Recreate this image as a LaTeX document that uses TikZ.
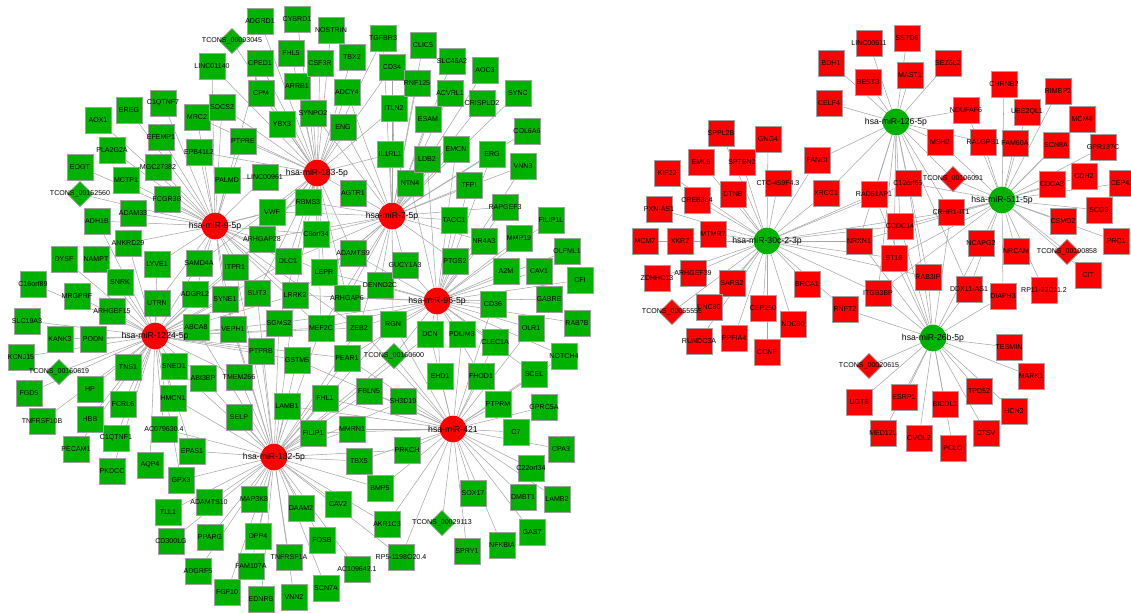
\documentclass[tikz,border=0pt]{standalone}
\usepackage{fontspec}
\setmainfont{Liberation Sans}
\usepackage{tikz}
\usetikzlibrary{shapes.geometric, backgrounds}

\definecolor{genegreen}{RGB}{0,178,0}
\definecolor{genered}{RGB}{255,0,0}
\definecolor{rimgray}{RGB}{160,160,160}
\definecolor{linkgray}{RGB}{165,165,165}
\newcommand{\genefont}{\fontsize{5.3}{6}\selectfont}
\newcommand{\hubfont}{\fontsize{6.5}{7}\selectfont}

\begin{document}
\begin{tikzpicture}[x=0.75pt,y=-0.75pt,
  nbox/.style={rectangle,draw=rimgray,line width=0.5pt,minimum size=19.5pt,inner sep=0pt,font=\genefont,
    execute at begin node={\hbox to 0pt\bgroup\hss},execute at end node={\hss\egroup}},
  gbox/.style={nbox,fill=genegreen},
  rbox/.style={nbox,fill=genered},
  gdia/.style={gbox,diamond,minimum size=19pt},
  rdia/.style={rbox,diamond,minimum size=19pt},
  hub/.style={circle,minimum size=20pt,inner sep=0pt,font=\hubfont,
    execute at begin node={\hbox to 0pt\bgroup\hss},execute at end node={\hss\egroup}},
  redhub/.style={hub,fill=genered},
  greenhub/.style={hub,fill=genegreen},
  link/.style={draw=linkgray,line width=0.4pt}]
\useasboundingbox (0,0) rectangle (1131,612);

% left network: targets
\foreach \n/\x/\y in {AOX1/98/120,EREG/129/110,C1QTNF7/163/103,MRC2/197/117,LINC01140/212/66,SOCS2/222/107,
  EFEMP1/161/137,EPB41L2/199/152,PLA2G2A/112/150,EOGT/80/167,MGC27382/158/167,MCTP1/126/180,FCGR3B/167/199,
  ADAM33/133/213,ADH1B/97/221,ANKRD29/128/243,DYSF/64/259,NAMPT/96/259,LYVE1/157/264,SAMD4A/199/263,
  C16orf89/33/284,SNRK/120/282,MRGPRF/77/296,UTRN/157/303,ADGRL2/195/294,ARHGEF15/112/311,SLC19A3/27/321,
  ABCA8/196/327,KANK3/60/339,PODN/93/339,KCNJ15/21/357,TNS1/128/367,SNED1/174/366,ABI3BP/203/378,FGD5/29/393,
  HP/90/389,FCRL6/123/404,HMCN1/173/398,TNFRSF10B/42/421,HBB/90/419,C1QTNF1/116/438,PECAM1/76/449,
  PKDCC/112/471,EPAS1/192/451,AQP4/150/465,GPX3/181/480,TLL1/168/512,CD300LG/171/541,ADGRF5/198/571,
  ADAMTS10/209/502,PPARG/210/537,MAP3K8/254/499,DPP4/258/536,FAM107A/251/566,FGF10/227/592,EDNRB/261/599,
  TNFRSF1A/289/557,VNN2/294/597,DAAM2/301/508,FOSB/322/540,SCN7A/326/588,CAV2/338/504,AKR1C3/387/524,
  BMP5/380/488,TBX5/359/461,PRKCH/407/450,MMRN1/352/429,FILIP1/313/433,SELP/239/417,LAMB1/287/406,
  FHL1/325/398,FBLN5/369/391,SH3D19/403/401,TMEM266/239/377,PTPRB/261/351,GSTM5/297/360,PEAR1/347/358,
  VEPH1/233/329,SGMS2/279/323,MEF2C/321/328,ZEB2/359/328,RGN/393/324,SYNE1/225/299,SLIT3/257/293,
  LRRK2/295/295,ARHGAP6/347/298,DENND2C/380/285,GUCY1A3/405/265,ITPR1/235/267,DLC1/288/261,LEPR/324/272,
  ADAMTS9/353/253,ARHGAP28/262/239,C8orf34/316/234,VWF/272/212,RBMS3/308/202,AGTR1/353/193,NTN4/410/183,
  PALMD/227/180,LINC00961/265/177,PTPRE/243/141,YBX3/282/124,SYNPO2/313/113,ENG/343/127,IL1RL1/390/154,
  LDB2/427/159,ITLN2/394/108,ESAM/428/119,CPM/261/93,ARRB1/297/86,ADCY4/347/92,CPED1/260/63,CSF3R/320/63,
  FHL5/291/53,TBX2/352/57,ADGRD1/260/21,CYBRD1/297/19,NOSTRIN/331/30,TGFBR3/383/38,CLIC5/423/45,CD34/392/67,
  RNF125/417/83,SLC46A2/452/61,AOC3/485/70,ACVRL1/450/93,SYNC/518/93,CRISPLD2/482/103,EMCN/456/149,
  ERG/492/154,COL6A6/527/131,VNN3/523/166,TFPI/469/185,RAPGEF3/505/207,TACC1/454/220,NR4A3/484/241,
  FILIP1L/551/220,MMP19/519/238,OLFML1/567/251,PTGS2/455/261,A2M/506/271,CAV1/539/271,CFI/580/280,
  GABRE/549/299,CD36/493/304,RAB7B/577/323,OLR1/531/328,DCN/430/334,PDLIM3/462/334,CLEC1A/495/342,
  NOTCH4/564/356,EHD1/440/376,FHOD1/481/376,SCEL/534/374,PTPRM/498/404,GPRC5A/544/407,C7/516/432,
  CPA3/561/449,C22orf34/531/468,DMBT1/523/497,LAMB2/557/499,SOX17/473/493,GAS7/532/532,SPRY1/467/551,
  NFKBIA/502/545}
  \node[gbox] (\n) at (\x,\y) {\n};
\foreach \n/\x/\y/\t in {AC079630x4/164/429/AC079630.4,RP5x1198O20x4/401/557/RP5-1198O20.4,
  AC109642x1/357/569/AC109642.1}
  \node[gbox] (\n) at (\x,\y) {\t};
\foreach \n/\x/\y/\t in {T93045/232/41/00093045,T152560/80/194/00152560,T160619/59/372/00160619,
  T160600/394/356/00160600,T29113/442/523/00029113}
  \node[gdia] (\n) at (\x,\y) {TCONS\_\t};

% left network: miRNAs
\node[redhub] (m183) at (317,173) {hsa-miR-183-5p};
\node[redhub] (m7) at (392,216) {hsa-miR-7-5p};
\node[redhub] (m9) at (215,226) {hsa-miR-9-5p};
\node[redhub] (m96) at (437,301) {hsa-miR-96-5p};
\node[redhub] (m1224) at (155,336) {hsa-miR-1224-5p};
\node[redhub] (m182) at (274,457) {hsa-miR-182-5p};
\node[redhub] (m421) at (453,429) {hsa-miR-421};

% right network: targets
\foreach \n/\x/\y in {SPPL2B/721/133,GNG4/768/139,EML5/701/162,SPTBN2/742/162,KIF22/667/173,DTNB/733/194,
  CREB3L4/697/200,MTMR7/713/234,XKR7/680/241,MCM7/645/241,ZDHHC13/657/278,ARHGEF39/693/273,SARS2/732/283,
  UNC80/709/307,RUNDC3A/699/341,PPFIA4/734/338,CEP250/763/308,CCNF/767/352,NDC80/793/324,BRCA1/807/284,
  LINC00511/869/43,SETD6/907/38,BDH1/831/63,SEZ6L2/948/63,BEST3/868/82,MAST1/910/75,CELF4/829/103,
  NDUFAF6/966/110,MSH2/940/142,FANCI/817/160,C12orf65/908/183,RAD51AP1/874/194,XRCC1/826/193,
  CCDC14/900/226,NRXN1/859/241,ST18/894/258,RAB3IP/928/277,ITGB3BP/878/293,RNFT2/845/309,UGT8/859/402,
  ESRP1/904/397,MED12L/883/433,OVOL2/919/438,BICDL1/945/404,PCLO/953/448,CHRNB2/1004/84,RIMBP2/1058/91,
  UBE2QL1/1027/112,MCM4/1082/119,RALGPS1/983/142,FAM60A/1015/143,SCN8A/1056/145,GPR137C/1103/147,
  CDH2/1084/176,CEP41/1122/183,CDCA3/1052/184,SCG3/1099/210,CSMD2/1063/221,PRC1/1116/241,NCAPG2/981/243,
  NRCAM/1016/251,CIT/1088/275,DIAPH3/1003/296,TESMIN/1009/347,MARK1/1031/376,TPD52/979/391,HCN3/1014/411,
  CTSV/986/433}
  \node[rbox] (\n) at (\x,\y) {\n};
\foreach \n/\x/\y/\t in {CTCx459F4x3/778/183/CTC-459F4.3,PXNxAS1/659/209/PXN-AS1,CRHR1xIT1/951/212/CRHR1-IT1,
  DDX11xAS1/969/289/DDX11-AS1,RP11x22C11x2/1044/290/RP11-22C11.2}
  \node[rbox] (\n) at (\x,\y) {\t};
\foreach \n/\x/\y/\t in {T55555/672/312/00055555,T106091/953/179/00106091,T190858/1067/252/00190858,
  T20615/869/366/00020615}
  \node[rdia] (\n) at (\x,\y) {TCONS\_\t};

% right network: miRNAs
\node[greenhub] (m126) at (896,122) {hsa-miR-126-5p};
\node[greenhub] (m511) at (1002,200) {hsa-miR-511-5p};
\node[greenhub] (m30c) at (767,241) {hsa-miR-30c-2-3p};
\node[greenhub] (m26b) at (933,338) {hsa-miR-26b-5p};

\begin{scope}[on background layer]
\foreach \g in {AOX1,EREG,C1QTNF7,MRC2,EFEMP1,EPB41L2,PLA2G2A,EOGT,MGC27382,MCTP1,T152560,FCGR3B,ADAM33,
  ADH1B,ANKRD29,SOCS2,LINC01140,CPED1,PTPRE,PALMD,LYVE1,SAMD4A,ITPR1,VWF,ARHGAP28,LINC00961,DLC1,SYNE1,
  SLIT3,UTRN,ADGRL2,LRRK2,LEPR,ZEB2,MEF2C,RBMS3,C8orf34,VEPH1}
  \draw[link] (m9) -- (\g);
\foreach \g in {ADGRD1,CYBRD1,NOSTRIN,FHL5,CSF3R,TBX2,ARRB1,CPM,YBX3,SYNPO2,ADCY4,ENG,T93045,CPED1,
  LINC01140,PTPRE,LINC00961,PALMD,IL1RL1,AGTR1,RBMS3,VWF,C8orf34,ARHGAP28,DLC1,LEPR,ITLN2,CD34,TGFBR3,
  SOCS2,MRC2,EPB41L2,ADAMTS9,LRRK2,SLIT3,ITPR1,SAMD4A,ARHGAP6,MEF2C,SGMS2}
  \draw[link] (m183) -- (\g);
\foreach \g in {TGFBR3,CD34,CLIC5,RNF125,SLC46A2,AOC3,ACVRL1,CRISPLD2,SYNC,ESAM,EMCN,COL6A6,ERG,VNN3,LDB2,
  NTN4,TFPI,ITLN2,IL1RL1,AGTR1,RBMS3,C8orf34,ADAMTS9,LEPR,GUCY1A3,DENND2C,ARHGAP6,TACC1,RAPGEF3,ENG,
  ADCY4,SYNPO2,ZEB2,MEF2C,LRRK2,DLC1,ARHGAP28,VWF,RGN,PTGS2,NR4A3}
  \draw[link] (m7) -- (\g);
\foreach \g in {RAPGEF3,TACC1,NR4A3,FILIP1L,MMP19,OLFML1,PTGS2,A2M,CAV1,CFI,GABRE,CD36,RAB7B,OLR1,DCN,
  PDLIM3,CLEC1A,NOTCH4,EHD1,FHOD1,GUCY1A3,DENND2C,RGN,T160600,ZEB2,ARHGAP6,LEPR,ADAMTS9,MEF2C,PEAR1,
  TFPI,LDB2,NTN4,SCEL,LRRK2,SGMS2,ERG,VNN3,EMCN}
  \draw[link] (m96) -- (\g);
\foreach \g in {PTPRM,GPRC5A,C7,CPA3,C22orf34,DMBT1,LAMB2,SOX17,GAS7,T29113,SPRY1,NFKBIA,SH3D19,PRKCH,
  FBLN5,EHD1,FHOD1,SCEL,CLEC1A,PDLIM3,DCN,RP5x1198O20x4,AKR1C3,MMRN1,FILIP1,FHL1,PEAR1,T160600,RGN,
  TBX5,BMP5,CD36,OLR1,NOTCH4,ZEB2,GSTM5,LAMB1}
  \draw[link] (m421) -- (\g);
\foreach \g in {SELP,LAMB1,FILIP1,MMRN1,TBX5,BMP5,PRKCH,MAP3K8,DAAM2,CAV2,AKR1C3,RP5x1198O20x4,ADAMTS10,
  PPARG,DPP4,FOSB,TNFRSF1A,AC109642x1,FAM107A,FGF10,EDNRB,VNN2,SCN7A,ADGRF5,CD300LG,TLL1,GPX3,EPAS1,
  AC079630x4,TMEM266,PTPRB,GSTM5,FHL1,FBLN5,SH3D19,VEPH1,SYNE1,ABI3BP,HMCN1,SGMS2,MEF2C,PEAR1,ZEB2,
  SLIT3,LRRK2,ITPR1,ABCA8,SNED1,T160600,RGN,DCN}
  \draw[link] (m182) -- (\g);
\foreach \g in {DYSF,NAMPT,C16orf89,SNRK,MRGPRF,UTRN,ADGRL2,ARHGEF15,SLC19A3,ABCA8,KANK3,PODN,KCNJ15,
  T160619,TNS1,SNED1,ABI3BP,FGD5,HP,FCRL6,HMCN1,TNFRSF10B,HBB,C1QTNF1,PECAM1,PKDCC,AC079630x4,AQP4,
  LYVE1,SAMD4A,ANKRD29,ADH1B,SYNE1,VEPH1,ITPR1,SLIT3,PTPRB,TMEM266,SGMS2,GSTM5,MEF2C,ZEB2,EPAS1,GPX3,
  ARHGAP28,DLC1,LRRK2,PEAR1}
  \draw[link] (m1224) -- (\g);
\foreach \g in {SPPL2B,GNG4,EML5,SPTBN2,KIF22,CTCx459F4x3,DTNB,CREB3L4,PXNxAS1,MTMR7,XKR7,MCM7,ZDHHC13,
  ARHGEF39,SARS2,T55555,UNC80,RUNDC3A,PPFIA4,CEP250,CCNF,NDC80,BRCA1,FANCI,XRCC1,RAD51AP1,NRXN1,CCDC14,
  ST18,C12orf65,CRHR1xIT1,ITGB3BP,RNFT2,RAB3IP}
  \draw[link] (m30c) -- (\g);
\foreach \g in {LINC00511,SETD6,BDH1,SEZ6L2,BEST3,MAST1,CELF4,NDUFAF6,MSH2,FANCI,T106091,C12orf65,
  RAD51AP1,CRHR1xIT1,CCDC14,ST18,RAB3IP,NRXN1,XRCC1,RALGPS1,DDX11xAS1,ITGB3BP}
  \draw[link] (m126) -- (\g);
\foreach \g in {CHRNB2,RIMBP2,UBE2QL1,MCM4,RALGPS1,FAM60A,SCN8A,GPR137C,CDH2,CEP41,CDCA3,SCG3,CSMD2,PRC1,
  NCAPG2,NRCAM,T190858,CIT,DIAPH3,RP11x22C11x2,DDX11xAS1,NDUFAF6,MSH2,T106091,CRHR1xIT1,C12orf65,CCDC14,
  NRXN1,ST18,ITGB3BP}
  \draw[link] (m511) -- (\g);
\foreach \g in {RNFT2,ITGB3BP,T20615,UGT8,ESRP1,MED12L,OVOL2,BICDL1,PCLO,TPD52,CTSV,HCN3,MARK1,TESMIN,
  DIAPH3,DDX11xAS1,RAB3IP,ST18,NRXN1,CCDC14,RAD51AP1,C12orf65,NCAPG2,CRHR1xIT1}
  \draw[link] (m26b) -- (\g);
\end{scope}
\end{tikzpicture}
\end{document}
